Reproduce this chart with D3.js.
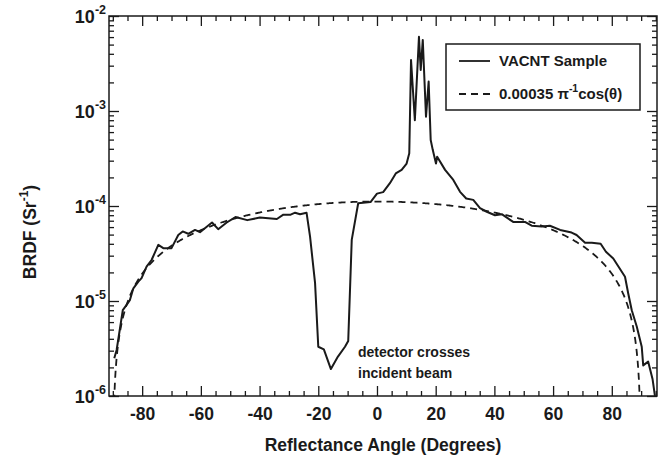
<!DOCTYPE html>
<html>
<head>
<meta charset="utf-8">
<script src="https://cdn.jsdelivr.net/npm/d3@7"></script>
<style>
  html, body { margin: 0; padding: 0; background: #fff; }
  svg text { font-family: "Liberation Sans", Arial, Helvetica, sans-serif; font-weight: bold; fill: #1a1a1a; }
</style>
</head>
<body>
<svg id="chart" width="664" height="459"></svg>
<script>
// Measured BRDF of the VACNT sample: [angle in degrees, BRDF in 1/sr]
const sampleAngles = [
  -89.5, -88.7, -86.6, -85.3, -84.2, -83.0, -81.3, -80.2, -78.5, -76.8,
  -74.5, -72.8, -70.0, -67.7, -66.2, -64.3, -62.0, -60.3, -58.0, -56.2,
  -54.1, -51.2, -48.2, -44.2, -39.9, -34.1, -31.9, -29.4, -27.9, -26.2,
  -24.0, -22.8, -21.1, -20.0, -18.1, -15.7, -13.3, -10.9, -9.8, -8.6,
  -6.4, -2.2, 0.0, 2.1, 4.4, 6.4, 8.4, 10.1, 11.0, 11.6,
  12.9, 14.3, 14.9, 15.6, 16.7, 17.6, 18.3, 19.0, 20.1, 20.5,
  23.2, 26.0, 28.3, 30.4, 32.8, 35.1, 37.4, 40.2, 42.5, 46.4,
  50.4, 52.7, 56.1, 58.9, 62.4, 66.3, 68.0, 70.9, 73.2, 76.2,
  78.0, 80.5, 84.5, 85.6, 86.8, 88.5, 90.2, 90.7, 92.4, 93.9,
  94.7
];
const sampleBRDF = [
  2.5e-6, 3.05e-6, 8.0e-6, 9.1e-6, 1.02e-5, 1.36e-5, 1.6e-5, 1.74e-5, 2.3e-5, 2.7e-5,
  3.9e-5, 3.6e-5, 3.6e-5, 4.95e-5, 5.4e-5, 5.1e-5, 5.6e-5, 5.3e-5, 6.05e-5, 6.7e-5,
  5.7e-5, 6.7e-5, 7.65e-5, 7.1e-5, 7.55e-5, 7.3e-5, 8.1e-5, 8.1e-5, 8.5e-5, 8.2e-5,
  8.5e-5, 4.75e-5, 1.55e-5, 3.3e-6, 3.1e-6, 1.92e-6, 2.6e-6, 3.3e-6, 3.8e-6, 4.4e-5,
  1.07e-4, 1.1e-4, 1.35e-4, 1.4e-4, 1.74e-4, 2.2e-4, 2.4e-4, 2.8e-4, 3.6e-4, 3.44e-3,
  8.0e-4, 6.05e-3, 2.7e-3, 5.6e-3, 8.7e-4, 2.04e-3, 4.95e-4, 3.9e-4, 2.8e-4, 3.3e-4,
  2.4e-4, 1.88e-4, 1.41e-4, 1.2e-4, 1.16e-4, 9.5e-5, 8.7e-5, 8.0e-5, 8.2e-5, 6.8e-5,
  6.8e-5, 6.2e-5, 6.1e-5, 6.2e-5, 5.6e-5, 5.25e-5, 4.95e-5, 4.1e-5, 4.1e-5, 4.0e-5,
  3.3e-5, 2.8e-5, 1.8e-5, 1.2e-5, 8.0e-6, 5.4e-6, 3.3e-6, 2.1e-6, 2.3e-6, 1.5e-6,
  1.0e-6
];

// Lambertian reference: 0.00035 / pi * cos(theta)
const lambertCoeff = 0.00035;
const lambertAngles = d3.range(-89.75, 90, 0.25);

// Axis ticks
const xMajorTicks = [-80, -60, -40, -20, 0, 20, 40, 60, 80];
const xMinorTicks = d3.range(-90, 95.1, 5).filter(v => !xMajorTicks.includes(v));
const yMajorTicks = [1e-6, 1e-5, 1e-4, 1e-3, 1e-2];
const yExponents = ["-6", "-5", "-4", "-3", "-2"];
const yMinorTicks = [];
for (let e = -6; e < -2; e++) for (let m = 2; m <= 9; m++) yMinorTicks.push(m * Math.pow(10, e));

const svg = d3.select("#chart");
const plot = { left: 109, right: 657, top: 16, bottom: 396 };

const x = d3.scaleLinear().domain([-91.3, 95.4]).range([plot.left, plot.right]);
const y = d3.scaleLog().domain([1e-6, 1e-2]).range([plot.bottom, plot.top]);

svg.append("defs").append("clipPath").attr("id", "plotClip")
  .append("rect")
  .attr("x", plot.left).attr("y", plot.top)
  .attr("width", plot.right - plot.left).attr("height", plot.bottom - plot.top);

const ink = "#1a1a1a";

// Axes with inward-pointing ticks on all four sides
function styleAxis(g) {
  g.select(".domain").remove();
  g.selectAll(".tick line").attr("stroke", ink).attr("stroke-width", 1.3);
}

svg.append("g").attr("transform", `translate(0,${plot.bottom})`)
  .call(d3.axisBottom(x).tickValues(xMajorTicks).tickSizeInner(-10).tickSizeOuter(0).tickPadding(12)
    .tickFormat(d => d3.format("d")(d).replace("−", "-")))
  .call(styleAxis)
  .call(g => g.selectAll("text").attr("font-size", 17.5).attr("fill", ink)
    .attr("font-family", "'Liberation Sans', Arial, sans-serif").attr("font-weight", "bold"));
svg.append("g").attr("transform", `translate(0,${plot.bottom})`)
  .call(d3.axisBottom(x).tickValues(xMinorTicks).tickSizeInner(-5).tickSizeOuter(0).tickFormat(""))
  .call(styleAxis);

svg.append("g").attr("transform", `translate(0,${plot.top})`)
  .call(d3.axisTop(x).tickValues(xMajorTicks).tickSizeInner(-10).tickSizeOuter(0).tickFormat(""))
  .call(styleAxis);
svg.append("g").attr("transform", `translate(0,${plot.top})`)
  .call(d3.axisTop(x).tickValues(xMinorTicks).tickSizeInner(-5).tickSizeOuter(0).tickFormat(""))
  .call(styleAxis);

svg.append("g").attr("transform", `translate(${plot.left},0)`)
  .call(d3.axisLeft(y).tickValues(yMajorTicks).tickSizeInner(-10).tickSizeOuter(0).tickFormat(""))
  .call(styleAxis);
svg.append("g").attr("transform", `translate(${plot.left},0)`)
  .call(d3.axisLeft(y).tickValues(yMinorTicks).tickSizeInner(-5).tickSizeOuter(0).tickFormat(""))
  .call(styleAxis);
svg.append("g").attr("transform", `translate(${plot.right},0)`)
  .call(d3.axisRight(y).tickValues(yMajorTicks).tickSizeInner(-10).tickSizeOuter(0).tickFormat(""))
  .call(styleAxis);
svg.append("g").attr("transform", `translate(${plot.right},0)`)
  .call(d3.axisRight(y).tickValues(yMinorTicks).tickSizeInner(-5).tickSizeOuter(0).tickFormat(""))
  .call(styleAxis);

// Frame
svg.append("rect")
  .attr("x", plot.left).attr("y", plot.top)
  .attr("width", plot.right - plot.left).attr("height", plot.bottom - plot.top)
  .attr("fill", "none").attr("stroke", ink).attr("stroke-width", 1.5);

// Y tick labels as powers of ten
const yLabels = svg.append("g");
yMajorTicks.forEach((v, i) => {
  const t = yLabels.append("text")
    .attr("x", plot.left - 3).attr("y", y(v) + 7)
    .attr("text-anchor", "end").attr("font-size", 18);
  t.append("tspan").text("10");
  t.append("tspan").attr("dy", -9).attr("font-size", 12.5).text(yExponents[i]);
});

// Axis titles
svg.append("text")
  .attr("x", (plot.left + plot.right) / 2).attr("y", 451)
  .attr("text-anchor", "middle").attr("font-size", 17.5)
  .text("Reflectance Angle (Degrees)");

const yTitle = svg.append("text")
  .attr("transform", `translate(36,${(plot.top + plot.bottom) / 2 + 26}) rotate(-90)`)
  .attr("text-anchor", "middle").attr("font-size", 17.5);
yTitle.append("tspan").text("BRDF (Sr");
yTitle.append("tspan").attr("dy", -8).attr("font-size", 12).text("-1");
yTitle.append("tspan").attr("dy", 8).text(")");

// Data lines
const plotArea = svg.append("g").attr("clip-path", "url(#plotClip)");

const lambertLine = d3.line()
  .x(d => x(d))
  .y(d => y(Math.max(lambertCoeff / Math.PI * Math.cos(d * Math.PI / 180), 1e-7)));
plotArea.append("path")
  .datum(lambertAngles)
  .attr("d", lambertLine)
  .attr("fill", "none").attr("stroke", ink).attr("stroke-width", 1.8)
  .attr("stroke-dasharray", "7,5");

const sampleLine = d3.line()
  .x(i => x(sampleAngles[i]))
  .y(i => y(sampleBRDF[i]));
plotArea.append("path")
  .datum(d3.range(sampleAngles.length))
  .attr("d", sampleLine)
  .attr("fill", "none").attr("stroke", ink).attr("stroke-width", 2)
  .attr("stroke-linejoin", "round");

// Annotation for the dip in the data
const note = svg.append("g").attr("font-size", 14);
note.append("text").attr("x", 358).attr("y", 357).text("detector crosses");
note.append("text").attr("x", 358).attr("y", 378).text("incident beam");

// Legend
const legend = svg.append("g");
legend.append("rect")
  .attr("x", 446).attr("y", 44).attr("width", 194).attr("height", 66)
  .attr("fill", "#fff").attr("stroke", ink).attr("stroke-width", 1.5);
legend.append("line")
  .attr("x1", 459).attr("x2", 490).attr("y1", 61).attr("y2", 61)
  .attr("stroke", ink).attr("stroke-width", 1.8);
legend.append("text").attr("x", 499).attr("y", 66).attr("font-size", 15).text("VACNT Sample");
legend.append("line")
  .attr("x1", 459).attr("x2", 495).attr("y1", 94).attr("y2", 94)
  .attr("stroke", ink).attr("stroke-width", 1.8).attr("stroke-dasharray", "7,5");
const lt = legend.append("text").attr("x", 499).attr("y", 99).attr("font-size", 15);
lt.append("tspan").text("0.00035 \u03c0");
lt.append("tspan").attr("dy", -7).attr("font-size", 10.5).text("-1");
lt.append("tspan").attr("dy", 7).text("cos(\u03b8)");
</script>
</body>
</html>
